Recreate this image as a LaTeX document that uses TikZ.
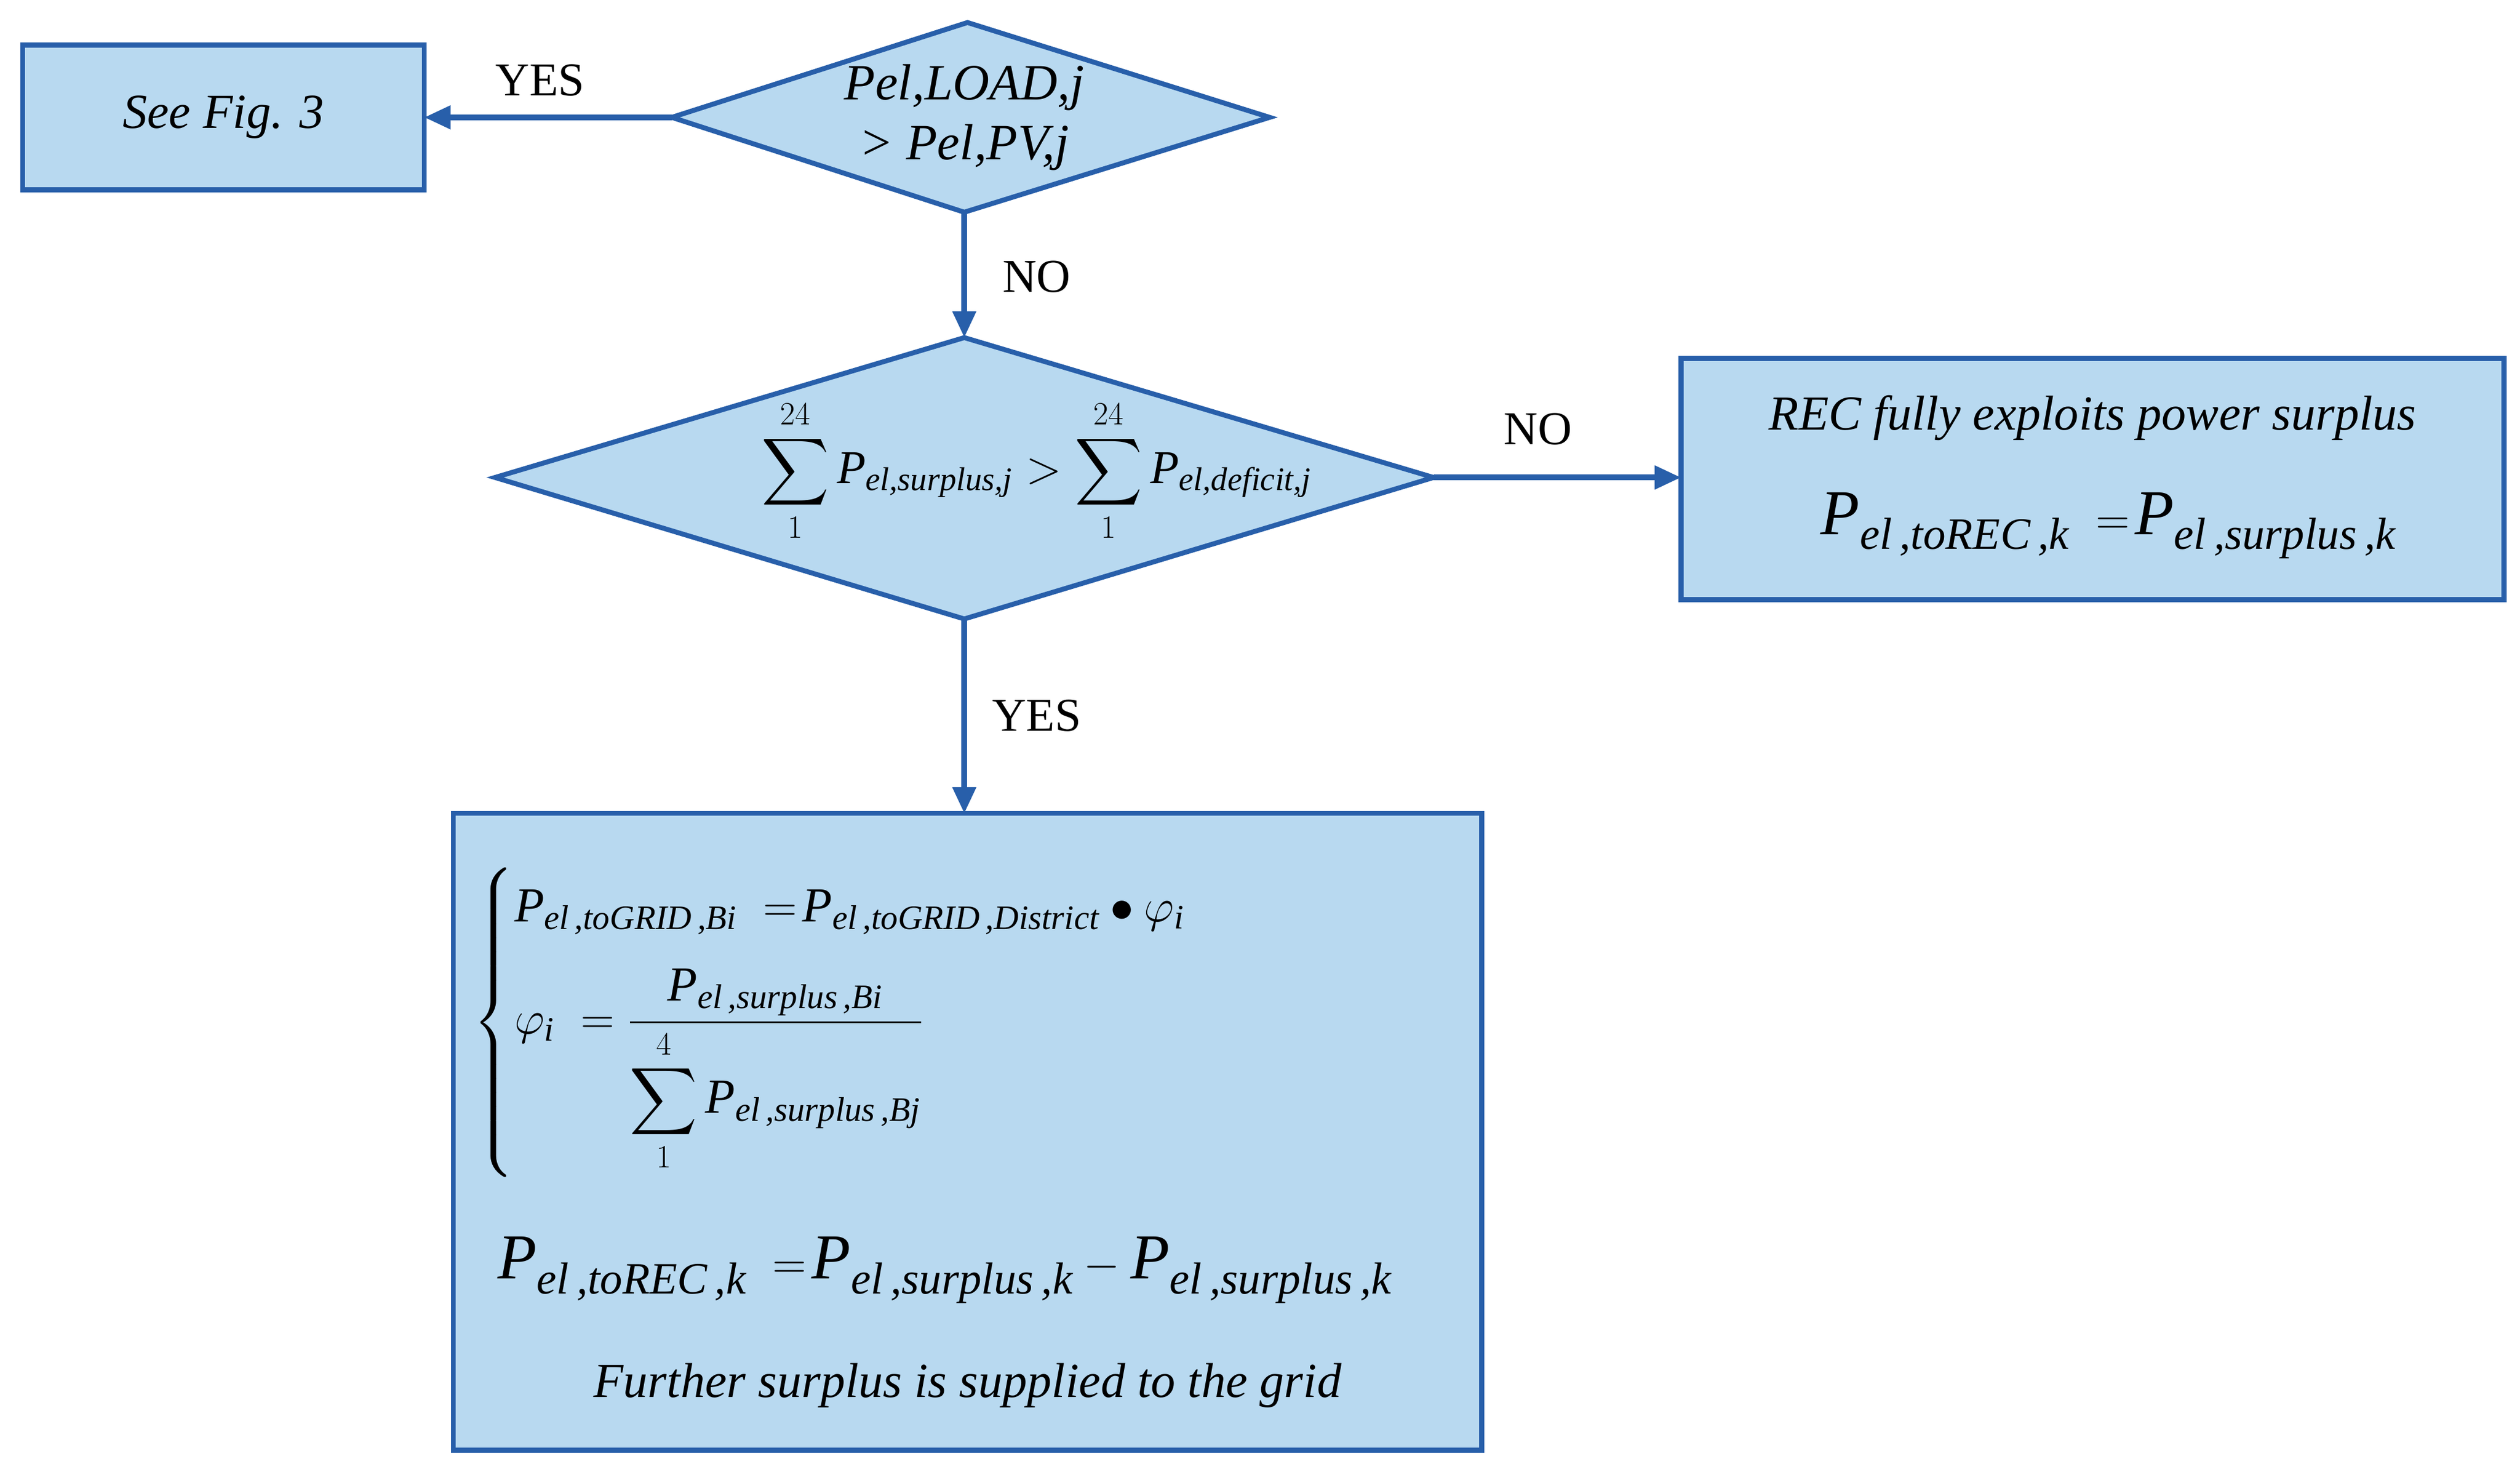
\documentclass[tikz,border=0pt]{standalone}
\usepackage{amsmath}
\usepackage{fontspec}
\setmainfont{Liberation Serif}
\usetikzlibrary{arrows.meta}
\definecolor{fillb}{RGB}{184,217,240}
\definecolor{lineb}{RGB}{40,95,170}
\newcommand{\ti}[1]{\textit{#1}}
\newcommand{\PP}[1]{\textit{P}_{\textit{#1}}}
\begin{document}
\begin{tikzpicture}[x=0.03cm,y=-0.03cm,
  box/.style={draw=lineb,line width=2.6pt,fill=fillb},
  arr/.style={draw=lineb,line width=3pt,-{Triangle[length=14pt,width=12pt]}},
  lab/.style={font=\fontsize{25}{30}\selectfont},
  txt/.style={font=\fontsize{26}{31}\selectfont\itshape,align=center}]
\useasboundingbox (0,0) rectangle (1568,915.6);
% See Fig 3
\draw[box] (14,28) rectangle (264,118);
\node[txt] (see) at (139,73) {See Fig. 3};
\coordinate (seeR) at (264,73);
% diamond 1
\coordinate (d1L) at (418,73); \coordinate (d1R) at (790,73);
\coordinate (d1T) at (602,14); \coordinate (d1B) at (600,132);
\draw[box] (d1L)--(d1T)--(d1R)--(d1B)--cycle;
\node[txt,font=\fontsize{27}{32}\selectfont\itshape] (d1) at (600,73) {Pel,LOAD,j\\ \textgreater{} Pel,PV,j};
% diamond 2
\coordinate (d2L) at (308,297); \coordinate (d2R) at (892,297);
\coordinate (d2T) at (600,210); \coordinate (d2B) at (600,385);
\draw[box] (d2L)--(d2T)--(d2R)--(d2B)--cycle;
\node[font=\fontsize{25}{30}\selectfont] (d2) at (645,293)
 {$\displaystyle\sum_{1}^{24}\PP{el,surplus,j} > \sum_{1}^{24}\PP{el,deficit,j}$};
% REC box
\draw[box] (1046,223) rectangle (1558,373);
\coordinate (recL) at (1046,297);
\node[txt] (rec1) at (1302,260) {REC fully exploits power surplus};
\node[font=\fontsize{34}{40}\selectfont] (rec2) at (1312,327) {$\PP{el\,,toREC\,,k}\;=\!\PP{el\,,surplus\,,k}$};
% bottom box
\draw[box] (282,506) rectangle (922,902);
\coordinate (botT) at (600,506);
\node[font=\fontsize{26}{31}\selectfont,anchor=west] (cases) at (290,636)
 {$\begin{cases} \PP{el\,,toGRID\,,Bi}\;=\!\PP{el\,,toGRID\,,District}\bullet\varphi_{\ti{i}}\\[14pt]
 \varphi_{\ti{i}}\;=\dfrac{\PP{el\,,surplus\,,Bi}}{\displaystyle\sum_{1}^{4}\PP{el\,,surplus\,,Bj}}\end{cases}$};
\node[font=\fontsize{34}{40}\selectfont] (eq) at (588,790) {$\PP{el\,,toREC\,,k}\;=\!\PP{el\,,surplus\,,k}-\PP{el\,,surplus\,,k}$};
\node[txt] (fur) at (602,862) {Further surplus is supplied to the grid};
% connectors
\draw[arr] (d1L) -- (seeR);
\node[lab] at (336,50) {YES};
\draw[arr] (d1B) -- (d2T);
\node[lab] at (645,172) {NO};
\draw[arr] (d2R) -- (recL);
\node[lab] at (957,267) {NO};
\draw[arr] (d2B) -- (botT);
\node[lab] at (645,445) {YES};
\end{tikzpicture}
\end{document}
